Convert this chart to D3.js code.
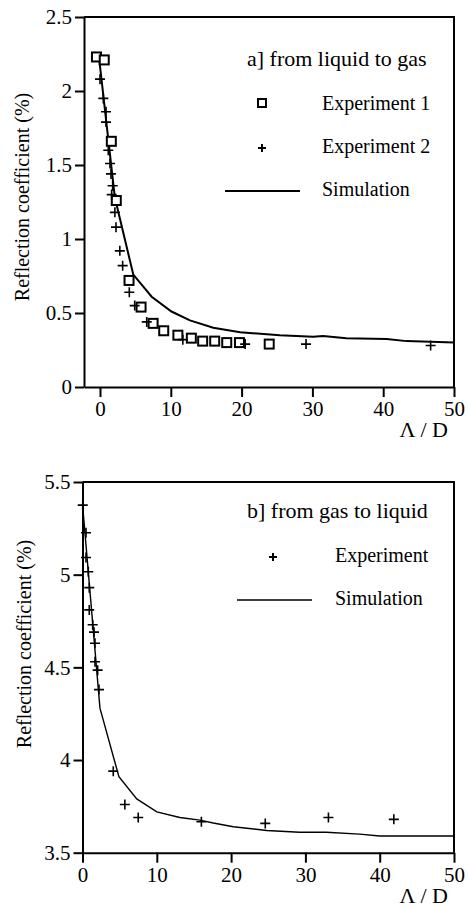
<!DOCTYPE html>
<html>
<head>
<meta charset="utf-8">
<script src="https://cdn.jsdelivr.net/npm/d3@7"></script>
<style>
  body { margin: 0; background: #fff; }
  text { font-family: "Liberation Serif", "Times New Roman", serif; fill: #000; }
</style>
</head>
<body>
<script>
// a] from liquid to gas
var exp1A = [[-0.5, 2.23], [0.6, 2.21], [1.6, 1.66], [2.3, 1.26], [4.1, 0.72], [5.8, 0.54],
  [7.5, 0.43], [9.0, 0.38], [11.0, 0.35], [12.9, 0.33], [14.5, 0.31], [16.2, 0.31],
  [17.9, 0.30], [19.7, 0.30], [23.9, 0.29]];
var exp2A = [[0.0, 2.08], [0.47, 1.95], [0.85, 1.86], [0.85, 1.79], [1.17, 1.60], [1.41, 1.51],
  [1.55, 1.44], [1.79, 1.36], [1.65, 1.30], [2.1, 1.18], [2.26, 1.08], [2.8, 0.92],
  [3.2, 0.82], [4.14, 0.64], [4.9, 0.55], [6.6, 0.44], [11.7, 0.32], [20.5, 0.29],
  [29.1, 0.29], [46.7, 0.28]];
var simA = [[-0.1, 2.21], [2.1, 1.28], [4.7, 0.76], [7.3, 0.61], [10.1, 0.51], [12.7, 0.45],
  [16.0, 0.40], [19.8, 0.37], [25.4, 0.35], [30.1, 0.34], [31.5, 0.345], [34.8, 0.33],
  [40.5, 0.325], [43.3, 0.31], [50, 0.30]];

// b] from gas to liquid
var expB = [[0.03, 5.375], [0.47, 5.226], [0.47, 5.093], [0.78, 5.016], [0.91, 4.93],
  [0.91, 4.81], [1.37, 4.73], [1.55, 4.69], [1.68, 4.63], [1.68, 4.53], [2.04, 4.485],
  [2.22, 4.38], [4.14, 3.94], [5.7, 3.76], [7.5, 3.69], [16.0, 3.667], [24.6, 3.658],
  [33.1, 3.69], [41.9, 3.68]];
var simB = [[0, 5.38], [2.35, 4.28], [4.9, 3.91], [7.3, 3.79], [10.0, 3.72], [13.1, 3.69],
  [15.8, 3.676], [17.6, 3.66], [20.3, 3.64], [24.8, 3.62], [29.2, 3.61], [32.8, 3.61],
  [37.3, 3.60], [40.0, 3.59], [50, 3.59]];

var xTicks = [0, 10, 20, 30, 40, 50];
var yTicksA = [0, 0.5, 1, 1.5, 2, 2.5];
var yTicksB = [3.5, 4, 4.5, 5, 5.5];

var width = 468, height = 910;

var svg = d3.select('body').append('svg')
  .attr('width', width)
  .attr('height', height);

function square(g, pts, x, y) {
  g.selectAll('rect.sq').data(pts).enter().append('rect')
    .attr('class', 'sq')
    .attr('x', function(d) { return x(d[0]) - 4.5; })
    .attr('y', function(d) { return y(d[1]) - 4.5; })
    .attr('width', 9).attr('height', 9)
    .attr('fill', '#fff').attr('stroke', '#000').attr('stroke-width', 2);
}

function plus(g, pts, x, y) {
  g.selectAll('path.pl').data(pts).enter().append('path')
    .attr('class', 'pl')
    .attr('d', function(d) {
      var px = x(d[0]), py = y(d[1]);
      return 'M' + (px - 5) + ',' + py + 'H' + (px + 5) + 'M' + px + ',' + (py - 5) + 'V' + (py + 5);
    })
    .attr('stroke', '#000').attr('stroke-width', 1.6).attr('fill', 'none');
}

function panel(o) {
  var x = d3.scaleLinear().domain(o.xDomain).range([o.left, o.right]);
  var y = d3.scaleLinear().domain(o.yDomain).range([o.bottom, o.top]);
  var g = svg.append('g');

  // frame: top and right
  g.append('path')
    .attr('d', 'M' + o.left + ',' + o.top + 'H' + o.right + 'V' + o.bottom)
    .attr('fill', 'none').attr('stroke', '#000').attr('stroke-width', 2);

  var xAxis = g.append('g')
    .attr('transform', 'translate(0,' + o.bottom + ')')
    .call(d3.axisBottom(x).tickValues(xTicks).tickSize(10).tickSizeOuter(0).tickPadding(4));
  var yAxis = g.append('g')
    .attr('transform', 'translate(' + o.left + ',0)')
    .call(d3.axisLeft(y).tickValues(o.yTicks).tickSize(9).tickSizeOuter(0).tickPadding(3)
      .tickFormat(d3.format('')));

  [xAxis, yAxis].forEach(function(a) {
    a.select('.domain').attr('stroke-width', 2);
    a.selectAll('.tick line').attr('stroke-width', 2);
    a.selectAll('.tick text').style('font-size', '21px')
      .style('font-family', '"Liberation Serif", serif');
  });

  // sim line
  g.append('path')
    .datum(o.sim)
    .attr('d', d3.line().x(function(d) { return x(d[0]); }).y(function(d) { return y(d[1]); }))
    .attr('fill', 'none').attr('stroke', '#000').attr('stroke-width', o.simWidth);

  if (o.squares) square(g, o.squares, x, y);
  plus(g, o.pluses, x, y);

  g.append('text')
    .attr('transform', 'translate(' + o.ylabX + ',' + o.ylabY + ') rotate(-90)')
    .attr('text-anchor', 'middle')
    .style('font-size', '20px')
    .text('Reflection coefficient (%)');

  g.append('text')
    .attr('x', o.right - 6).attr('y', o.bottom + 50)
    .attr('text-anchor', 'end')
    .style('font-size', '22px')
    .text('\u039B / D');

  // legend
  var lg = g.append('g');
  lg.append('text').attr('x', 247).attr('y', o.legY).style('font-size', '22px').text(o.title);
  o.legend.forEach(function(l, i) {
    var ly = o.legY + 44 + i * 43;
    if (l.type === 'sq') {
      lg.append('rect').attr('x', 258).attr('y', ly - 11).attr('width', 8).attr('height', 8)
        .attr('fill', '#fff').attr('stroke', '#000').attr('stroke-width', 2);
    } else if (l.type === 'pl') {
      lg.append('path').attr('d', 'M' + (l.px - 4) + ',' + (ly - 5) + 'h8M' + l.px + ',' + (ly - 9) + 'v8')
        .attr('stroke', '#000').attr('stroke-width', 2);
    } else {
      lg.append('line').attr('x1', l.x1).attr('x2', l.x2).attr('y1', ly - 5).attr('y2', ly - 5)
        .attr('stroke', '#000').attr('stroke-width', o.simWidth);
    }
    lg.append('text').attr('x', l.tx).attr('y', ly).style('font-size', '20px').text(l.label);
  });
}

panel({
  xDomain: [-2.26, 50], yDomain: [0, 2.5], yTicks: yTicksA,
  left: 84, right: 454, top: 17, bottom: 387,
  sim: simA, squares: exp1A, pluses: exp2A, simWidth: 2,
  ylabX: 29, ylabY: 197, legY: 66,
  title: 'a] from liquid to gas',
  legend: [
    { type: 'sq', label: 'Experiment  1', tx: 322 },
    { type: 'pl', label: 'Experiment  2', tx: 322, px: 262 },
    { type: 'ln', label: 'Simulation', tx: 322, x1: 225, x2: 300 }
  ]
});

panel({
  xDomain: [0, 50], yDomain: [3.5, 5.5], yTicks: yTicksB,
  left: 82.5, right: 454, top: 482, bottom: 852.7,
  sim: simB, pluses: expB, simWidth: 1.4,
  ylabX: 31, ylabY: 644, legY: 518,
  title: 'b] from gas to liquid',
  legend: [
    { type: 'pl', label: 'Experiment', tx: 335, px: 273 },
    { type: 'ln', label: 'Simulation', tx: 335, x1: 237, x2: 312 }
  ]
});
</script>
</body>
</html>
